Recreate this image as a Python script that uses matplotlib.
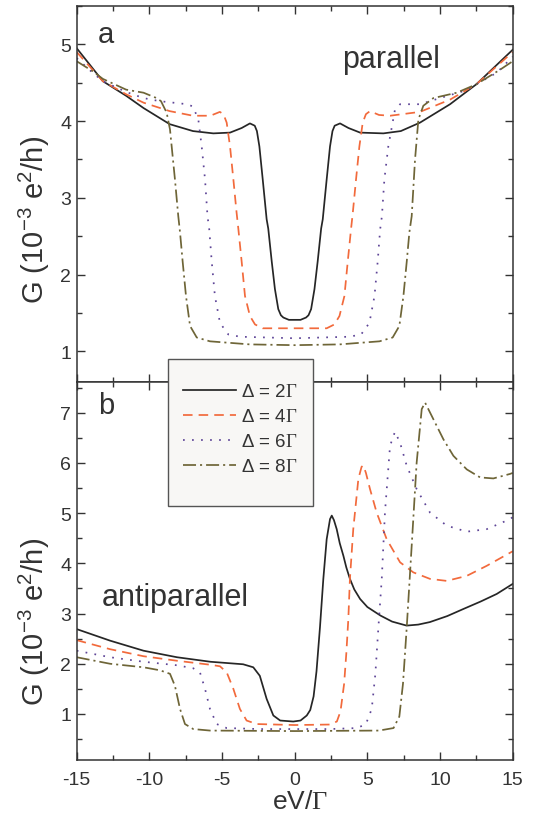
import matplotlib
matplotlib.use("Agg")
import matplotlib.pyplot as plt
from matplotlib.patches import Rectangle
from matplotlib.ticker import MultipleLocator

plt.rcParams['font.family'] = ['Liberation Sans', 'DejaVu Sans']
plt.rcParams['mathtext.fontset'] = 'custom'
plt.rcParams['mathtext.rm'] = 'Liberation Serif'
plt.rcParams['mathtext.sf'] = 'Liberation Sans'
plt.rcParams['axes.unicode_minus'] = False

# ---------------- data: panel a (parallel) ----------------
a2_x = [-15, -13.2, -11.6, -10.4, -8.6, -7.0, -5.6, -4.45, -3.65, -3.08, -2.75, -2.6, -2.43, -2.2, -1.93,
        -1.82, -1.58, -1.36, -1.13, -0.95, -0.78, -0.4, 0, 0.4, 0.78, 0.95, 1.13, 1.36, 1.58, 1.82, 1.93,
        2.2, 2.43, 2.6, 2.75, 3.12, 3.7, 4.5, 6.1, 7.3, 8.62, 10.69, 12.5, 15]
a2_y = [4.95, 4.52, 4.33, 4.17, 3.96, 3.87, 3.84, 3.85, 3.91, 3.97, 3.94, 3.87, 3.67, 3.24, 2.72,
        2.60, 2.17, 1.81, 1.55, 1.47, 1.44, 1.41, 1.41, 1.41, 1.44, 1.47, 1.55, 1.81, 2.17, 2.60, 2.72,
        3.24, 3.67, 3.87, 3.94, 3.97, 3.91, 3.85, 3.84, 3.87, 3.98, 4.22, 4.48, 4.93]

a4_x = [-15, -13.2, -11.6, -10.4, -8.6, -7.0, -5.8, -5.15, -4.9, -4.68, -4.45, -4.22, -4.0, -3.88, -3.65,
        -3.42, -3.08, -2.73, -2.2, 0, 2.2, 2.73, 3.08, 3.42, 3.65, 3.88, 4.0, 4.22, 4.45, 4.68, 4.9,
        5.18, 5.8, 6.56, 8.62, 10.69, 12.5, 15]
a4_y = [4.90, 4.52, 4.35, 4.24, 4.13, 4.07, 4.07, 4.12, 4.09, 3.98, 3.67, 3.24, 2.81, 2.60, 2.17,
        1.72, 1.46, 1.35, 1.30, 1.30, 1.30, 1.35, 1.46, 1.72, 2.17, 2.60, 2.81, 3.24, 3.67, 3.98, 4.09,
        4.13, 4.08, 4.07, 4.12, 4.28, 4.48, 4.90]

a6_x = [-15, -13.9, -13.2, -11.6, -10.4, -9.3, -7.4, -7.0, -6.63, -6.4, -6.17, -6.0, -5.88, -5.71, -5.49,
        -5.14, -4.57, -3.76, 0, 3.76, 4.57, 5.14, 5.49, 5.71, 5.88, 6.0, 6.17, 6.44, 6.9, 7.25, 8.62,
        10.0, 11.6, 12.5, 13.9, 15]
a6_y = [4.82, 4.63, 4.52, 4.38, 4.30, 4.26, 4.22, 4.19, 4.02, 3.67, 3.24, 2.76, 2.59, 2.17, 1.72,
        1.37, 1.22, 1.19, 1.17, 1.19, 1.22, 1.37, 1.72, 2.17, 2.59, 2.76, 3.24, 3.67, 4.15, 4.22, 4.22,
        4.30, 4.39, 4.48, 4.63, 4.84]

a8_x = [-15, -13.9, -13.2, -11.6, -10.4, -9.5, -9.2, -8.81, -8.58, -8.24, -8.01, -7.89, -7.71, -7.48,
        -7.2, -6.74, -5.83, -3.08, 0, 3.08, 5.83, 6.74, 7.2, 7.48, 7.71, 7.89, 8.05, 8.28, 8.51, 8.85,
        9.54, 11.15, 12.5, 14.13, 15]
a8_y = [4.78, 4.65, 4.55, 4.41, 4.37, 4.30, 4.26, 4.11, 3.89, 3.24, 2.76, 2.55, 2.17, 1.72,
        1.33, 1.18, 1.13, 1.09, 1.08, 1.09, 1.13, 1.18, 1.33, 1.72, 2.17, 2.55, 2.76, 3.50, 4.02, 4.20,
        4.30, 4.37, 4.48, 4.67, 4.78]

# ---------------- data: panel b (antiparallel) ----------------
b2_x = [-15, -12.7, -10.4, -8.1, -5.8, -3.55, -2.85, -2.4, -1.93, -1.47, -1.0, -0.1, 0.4, 0.83, 1.07,
        1.3, 1.5, 1.74, 1.97, 2.2, 2.43, 2.55, 2.7, 2.89, 3.1, 3.35, 3.55, 3.8, 4.1, 4.5, 5.0, 5.9,
        6.7, 7.7, 8.5, 9.3, 10.5, 11.6, 12.8, 13.9, 15]
b2_y = [2.69, 2.46, 2.26, 2.13, 2.04, 1.99, 1.93, 1.76, 1.30, 0.97, 0.87, 0.85, 0.87, 0.97, 1.08,
        1.35, 1.85, 2.73, 3.69, 4.48, 4.88, 4.95, 4.86, 4.68, 4.40, 4.15, 3.92, 3.69, 3.48, 3.29, 3.13, 2.96,
        2.84, 2.76, 2.78, 2.83, 2.95, 3.09, 3.24, 3.39, 3.59]

b4_x = [-15, -12.7, -10.4, -8.1, -5.8, -5.14, -4.68, -4.22, -3.77, -3.31, -2.62, 0, 2.4, 2.9, 3.15,
        3.4, 3.55, 3.69, 3.8, 4.03, 4.38, 4.6, 4.72, 4.9, 5.18, 5.64, 6.33, 7.25, 8.16, 9.31, 10.46,
        11.84, 13.21, 15]
b4_y = [2.47, 2.29, 2.15, 2.06, 1.98, 1.95, 1.83, 1.50, 1.10, 0.87, 0.80, 0.78, 0.79, 0.85, 1.05,
        1.6, 2.2, 2.89, 3.69, 4.68, 5.68, 5.92, 5.95, 5.80, 5.48, 5.01, 4.48, 4.02, 3.82, 3.69, 3.65,
        3.75, 3.95, 4.24]

b6_x = [-15, -12.7, -10.4, -8.1, -6.98, -6.52, -6.17, -5.83, -5.37, -4.68, -2.4, 0, 2.4, 4.3, 4.9,
        5.3, 5.55, 5.76, 5.99, 6.21, 6.56, 6.9, 7.25, 7.71, 8.39, 9.31, 10.46, 11.84, 13.21, 14.82, 15]
b6_y = [2.26, 2.13, 2.04, 1.97, 1.91, 1.83, 1.50, 1.10, 0.80, 0.72, 0.70, 0.70, 0.70, 0.72, 0.80,
        1.1, 1.8, 2.73, 3.69, 5.01, 6.34, 6.62, 6.40, 5.94, 5.48, 5.01, 4.75, 4.63, 4.68, 4.88, 4.92]

b8_x = [-15, -12.7, -10.4, -9.27, -8.58, -8.24, -7.89, -7.55, -6.98, -5.83, 0, 5.8, 6.8, 7.2, 7.45,
        7.71, 8.05, 8.39, 8.74, 8.97, 9.54, 10.23, 10.92, 11.84, 12.76, 13.67, 14.82, 15]
b8_y = [2.13, 2.00, 1.93, 1.87, 1.80, 1.56, 1.10, 0.80, 0.70, 0.67, 0.66, 0.67, 0.72, 0.95, 1.6,
        2.73, 4.35, 6.00, 7.07, 7.20, 6.87, 6.47, 6.14, 5.87, 5.71, 5.69, 5.78, 5.80]

labels = ['Δ = 2$\\Gamma$', 'Δ = 4$\\Gamma$', 'Δ = 6$\\Gamma$', 'Δ = 8$\\Gamma$']
colors = ['#262626', '#f26a3c', '#5e4597', '#6e6537']
styles = ['-', (0, (5.5, 3.5)), (0, (1.0, 4.2)), (0, (7.5, 2.3, 1.2, 2.3))]

top_series = [(a2_x, a2_y), (a4_x, a4_y), (a6_x, a6_y), (a8_x, a8_y)]
bot_series = [(b2_x, b2_y), (b4_x, b4_y), (b6_x, b6_y), (b8_x, b8_y)]

W, H = 538, 828
fig = plt.figure(figsize=(W / 100, H / 100), dpi=100)
L, R = 76.7 / W, 512.7 / W
y_top, y_mid, y_bot = 7.0, 383.0, 760.7
ax1 = fig.add_axes([L, 1 - y_mid / H, R - L, (y_mid - y_top) / H])
ax2 = fig.add_axes([L, 1 - y_bot / H, R - L, (y_bot - y_mid) / H])

spine_c = '#333333'
txt_c = '#333333'
for ax, series in ((ax1, top_series), (ax2, bot_series)):
    for (xs, ys), c, ls, lab in zip(series, colors, styles, labels):
        ax.plot(xs, ys, color=c, linestyle=ls, lw=1.25, label=lab)
    ax.set_xlim(-15, 15)
    ax.xaxis.set_major_locator(MultipleLocator(5))
    ax.xaxis.set_minor_locator(MultipleLocator(2.5))
    ax.yaxis.set_major_locator(MultipleLocator(1))
    ax.yaxis.set_minor_locator(MultipleLocator(0.5))
    ax.tick_params(which='both', direction='in', top=True, right=True, color=spine_c,
                   labelcolor=txt_c, labelsize=14, width=1.0)
    ax.tick_params(which='major', length=6)
    ax.tick_params(which='minor', length=3.6)
    ax.tick_params(axis='y', pad=4)
    ax.tick_params(axis='x', pad=8)
    for s in ax.spines.values():
        s.set_color(spine_c)
        s.set_linewidth(1.1)

ax1.set_ylim(0.6, 5.5)
ax2.set_ylim(0.09, 7.61)
ax1.tick_params(labelbottom=False)
ax2.set_xticks([-15, -10, -5, 0, 5, 10, 15])
ax2.set_xticklabels(['-15', '-10', '-5', '0', '5', '10', '15'])

ylab = 'G (10$^{\\mathsf{-3}}$ e$^{\\mathsf{2}}$/h)'
fig.text(34 / W, 1 - 220 / H, ylab, rotation=90, ha='center', va='center', fontsize=21, color=txt_c)
fig.text(34 / W, 1 - 622 / H, ylab, rotation=90, ha='center', va='center', fontsize=21, color=txt_c)
fig.text(300 / W, 1 - 802 / H, 'eV/$\\Gamma$', ha='center', va='center', fontsize=19, color=txt_c)

fig.text(98 / W, 1 - 43 / H, 'a', ha='left', va='baseline', fontsize=21, color=txt_c)
fig.text(342 / W, 1 - 68 / H, 'parallel', ha='left', va='baseline', fontsize=22, color=txt_c)
fig.text(98 / W, 1 - 414 / H, 'b', ha='left', va='baseline', fontsize=21, color=txt_c)
fig.text(102 / W, 1 - 606 / H, 'antiparallel', ha='left', va='baseline', fontsize=22, color=txt_c)

# legend box
rect = Rectangle((168 / W, 1 - 507 / H), 145 / W, 147 / H, transform=fig.transFigure,
                 facecolor='#f8f7f5', edgecolor='#555555', lw=1.0, zorder=3)
fig.patches.append(rect)
handles, labs = ax1.get_legend_handles_labels()
leg = fig.legend(handles, labs, loc='upper left', bbox_to_anchor=(183 / W, 1 - 384 / H),
                 bbox_transform=fig.transFigure, frameon=False, fontsize=13.5,
                 handlelength=2.84, handletextpad=0.25, labelspacing=0.42,
                 borderpad=0, borderaxespad=0)
leg.set_zorder(5)
for t in leg.get_texts():
    t.set_color(txt_c)

fig.savefig('out.png', dpi=100)
